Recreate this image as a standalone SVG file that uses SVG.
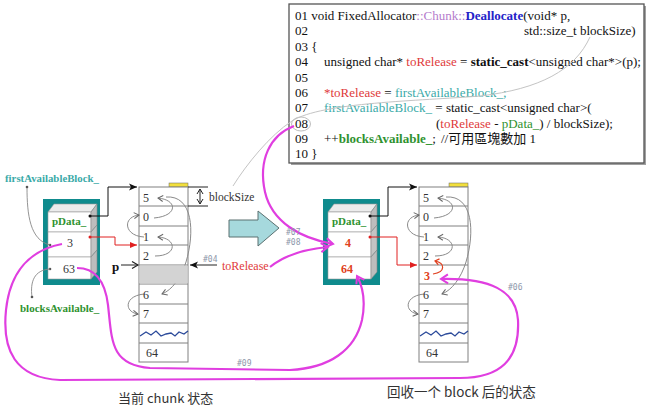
<svg xmlns="http://www.w3.org/2000/svg" width="650" height="413" viewBox="0 0 650 413">
<style>
.serif{font-family:"Liberation Serif","Noto Sans CJK TC",serif}
.num{font-family:"Liberation Serif",serif;font-size:12px;fill:#333}
.tag{font-family:"DejaVu Sans Mono",monospace;font-size:8px;fill:#8e97aa}
.cell{fill:#fff;stroke:#808080;stroke-width:1}
.chain{fill:none;stroke:#8a8a8a;stroke-width:1}
.mag{fill:none;stroke:#e03ee0;stroke-width:2.2}
.red{fill:#e03a3a}
.teal{fill:#3aaaa8}
.grn{fill:#2f922f}
</style>
<defs>
<marker id="ag" markerUnits="userSpaceOnUse" markerWidth="8" markerHeight="8" refX="6" refY="4" orient="auto"><path d="M1,1 L6,4 L1,7" fill="none" stroke="#666" stroke-width="1"/></marker>
<marker id="ab" markerUnits="userSpaceOnUse" markerWidth="10" markerHeight="8" refX="8" refY="4" orient="auto"><path d="M0,0.5 L8,4 L0,7.5 L2,4 z" fill="#111"/></marker>
<marker id="abo" markerUnits="userSpaceOnUse" markerWidth="10" markerHeight="10" refX="7" refY="5" orient="auto"><path d="M1,1.5 L7,5 L1,8.5" fill="none" stroke="#222" stroke-width="1.2"/></marker>
<marker id="ar" markerUnits="userSpaceOnUse" markerWidth="10" markerHeight="8" refX="7" refY="4" orient="auto"><path d="M0,1 L7,4 L0,7 z" fill="#e02020"/></marker>
<marker id="arc" markerUnits="userSpaceOnUse" markerWidth="8" markerHeight="8" refX="5" refY="4" orient="auto"><path d="M1,1 L5,4 L1,7" fill="none" stroke="#e04020" stroke-width="1.2"/></marker>
<marker id="am" markerUnits="userSpaceOnUse" markerWidth="12" markerHeight="12" refX="9" refY="6" orient="auto"><path d="M2,1.5 L9,6 L2,10.5" fill="none" stroke="#e03ee0" stroke-width="2"/></marker>
<marker id="ad" markerUnits="userSpaceOnUse" markerWidth="8" markerHeight="8" refX="6" refY="4" orient="auto-start-reverse"><path d="M1,1 L6,4 L1,7" fill="none" stroke="#222" stroke-width="1"/></marker>

<g id="structShape">
  <rect x="43" y="199" width="57" height="86" fill="#0f8b8d"/>
  <polygon points="48,212 54,204 97,204 91,212" fill="#ececec" stroke="#999" stroke-width="0.6"/>
  <rect x="48" y="212" width="43" height="20" fill="#fff" stroke="#999" stroke-width="0.6"/>
  <polygon points="91,212 97,204 97,225 91,232" fill="#bdbdbd" stroke="#888" stroke-width="0.6"/>
  <rect x="48" y="232" width="43" height="25" fill="#fff" stroke="#999" stroke-width="0.6"/>
  <polygon points="91,232 97,225 97,250 91,257" fill="#c4c4c4" stroke="#888" stroke-width="0.6"/>
  <rect x="48" y="257" width="43" height="22" fill="#fff" stroke="#999" stroke-width="0.6"/>
  <polygon points="91,257 97,250 97,272 91,279" fill="#bdbdbd" stroke="#888" stroke-width="0.6"/>
</g>

<g id="columnShape">
  <rect x="169" y="183" width="19" height="4" fill="#f2df3c" stroke="#666" stroke-width="0.5"/>
  <rect class="cell" x="139" y="187" width="49" height="175"/>
  <g stroke="#808080" stroke-width="1">
    <line x1="139" y1="206" x2="188" y2="206"/>
    <line x1="139" y1="226" x2="188" y2="226"/>
    <line x1="139" y1="245" x2="188" y2="245"/>
    <line x1="139" y1="265" x2="188" y2="265"/>
    <line x1="139" y1="284" x2="188" y2="284"/>
    <line x1="139" y1="304" x2="188" y2="304"/>
    <line x1="139" y1="323" x2="188" y2="323"/>
    <line x1="139" y1="343" x2="188" y2="343"/>
  </g>
  <polyline points="140,336 146,332 151,335 156,331 161,336 166,334 171,333 175,336 179,332 184,334 188,331" fill="none" stroke="#2b4a9a" stroke-width="1.3"/>
  <path class="chain" d="M154,218 C178,216 178,200 158,198" marker-end="url(#ag)"/>
  <path class="chain" d="M166,197 C193,195 195,232 186,262 C181,278 172,290 162,294" marker-end="url(#ag)"/>
  <path class="chain" d="M144,237 C124,236 122,217 139,215" marker-end="url(#ag)"/>
  <path class="chain" d="M155,256 C178,256 177,238 158,237" marker-end="url(#ag)"/>
  <path class="chain" d="M144,294 C124,296 124,312 138,314" marker-end="url(#ag)"/>
  <text class="num" x="143" y="202">5</text>
  <text class="num" x="143" y="221">0</text>
  <text class="num" x="143" y="241">1</text>
  <text class="num" x="143" y="260">2</text>
  <text class="num" x="143" y="299">6</text>
  <text class="num" x="143" y="318">7</text>
  <text class="num" x="146" y="357">64</text>
</g>
</defs>

<!-- code box -->
<g id="code">
  <rect x="291" y="6" width="355" height="159" fill="#a0a0a0"/>
  <rect x="289" y="4" width="355" height="159" fill="#fff" stroke="#555" stroke-width="1.3"/>
  <g class="serif" font-size="13" fill="#111">
    <text x="295" y="19.5">01 void FixedAllocator<tspan fill="#b57ccc">::Chunk::</tspan><tspan fill="#2323c8" font-weight="bold">Deallocate</tspan>(void* p,</text>
    <text x="295" y="35">02</text>
    <text x="524" y="35">std::size_t blockSize)</text>
    <text x="295" y="50.5">03 {</text>
    <text x="295" y="66">04</text>
    <text x="324" y="66">unsigned char* <tspan class="red">toRelease</tspan> = <tspan font-weight="bold">static_cast</tspan>&lt;unsigned char*&gt;(p);</text>
    <text x="295" y="81.5">05</text>
    <text x="295" y="97">06</text>
    <text x="324" y="97"><tspan class="red">*toRelease</tspan> = <tspan class="teal">firstAvailableBlock_;</tspan></text>
    <text x="295" y="112">07</text>
    <text x="324" y="112"><tspan class="teal">firstAvailableBlock_</tspan> = static_cast&lt;unsigned char&gt;(</text>
    <text x="295" y="127.5">08</text>
    <text x="436" y="127.5">(<tspan class="red">toRelease</tspan> - <tspan class="grn">pData_</tspan>) / blockSize);</text>
    <text x="295" y="143">09</text>
    <text x="324" y="143">++<tspan class="grn" font-weight="bold">blocksAvailable_</tspan>;  <tspan x="441">//可用區塊數加 1</tspan></text>
    <text x="295" y="158">10 }</text>
  </g>
  <ellipse cx="301" cy="124" rx="9.5" ry="7" fill="none" stroke="#bdbdbd" stroke-width="1"/>
</g>

<!-- left chunk -->
<g id="chunkLeft">
  <use href="#structShape"/>
  <text x="52" y="225" font-family="Liberation Serif,serif" font-size="11" font-weight="bold" fill="#2f922f">pData_</text>
  <text x="67" y="247" font-family="Liberation Serif,serif" font-size="12" fill="#333">3</text>
  <text x="63" y="273" font-family="Liberation Serif,serif" font-size="12" fill="#333">63</text>
  <circle cx="90" cy="216" r="1.5" fill="#111"/>
  <circle cx="90" cy="237" r="1.5" fill="#e02020"/>
  <circle cx="50" cy="245" r="1.3" fill="#555"/>
  <circle cx="50" cy="269" r="1.3" fill="#555"/>
</g>
<g id="labelFirst">
  <text x="5" y="182" font-family="Liberation Serif,serif" font-size="10.8" font-weight="bold" fill="#3aaaa8">firstAvailableBlock_</text>
  <path d="M27,187 C27,215 30,240 50,245" fill="none" stroke="#888" stroke-width="0.9"/>
  <circle cx="27" cy="187" r="1.3" fill="#555"/>
</g>
<g id="labelBlocks">
  <text x="20" y="312" font-family="Liberation Serif,serif" font-size="11" font-weight="bold" fill="#2f922f">blocksAvailable_</text>
  <path d="M32,297 C30,282 34,270 50,269" fill="none" stroke="#888" stroke-width="0.9"/>
  <circle cx="32" cy="297" r="1.3" fill="#555"/>
</g>
<g id="columnLeft">
  <use href="#columnShape"/>
  <rect x="139.5" y="265.5" width="48" height="18" fill="#d3d3d3"/>
</g>
<g id="blockSizeMark">
  <line x1="188" y1="187" x2="208" y2="187" stroke="#222" stroke-width="1"/>
  <line x1="188" y1="206" x2="208" y2="206" stroke="#222" stroke-width="1"/>
  <line x1="200" y1="189" x2="200" y2="204" stroke="#222" stroke-width="1" marker-start="url(#ad)" marker-end="url(#ad)"/>
  <text x="209" y="201" font-family="Liberation Serif,serif" font-size="11.5" fill="#333">blockSize</text>
</g>
<g id="pLabel">
  <text x="112" y="271" font-family="Liberation Serif,serif" font-size="13" font-weight="bold" fill="#111">p</text>
</g>
<g id="toReleaseLabel">
  <text x="222" y="270" font-family="Liberation Serif,serif" font-size="12" fill="#e03a3a">toRelease</text>
</g>

<!-- big arrow -->
<g id="bigArrow">
  <polygon points="229,220 258,220 258,211 279,228 258,246 258,237 229,237" fill="#a6d9dd" stroke="#5a7070" stroke-width="1"/>
</g>

<!-- right chunk -->
<g id="chunkRight">
  <use href="#structShape" x="280"/>
  <text x="332" y="225" font-family="Liberation Serif,serif" font-size="11" font-weight="bold" fill="#2f922f">pData_</text>
  <text x="345" y="247" font-family="Liberation Serif,serif" font-size="12" font-weight="bold" fill="#e04020">4</text>
  <text x="341" y="273" font-family="Liberation Serif,serif" font-size="12" font-weight="bold" fill="#e04020">64</text>
  <circle cx="370" cy="216" r="1.5" fill="#111"/>
  <circle cx="370" cy="237" r="1.5" fill="#e02020"/>
</g>
<g id="columnRight">
  <use href="#columnShape" x="280"/>
  <text x="424" y="280" font-family="Liberation Serif,serif" font-size="12" font-weight="bold" fill="#e04020">3</text>
</g>

<!-- captions -->
<g id="captions" font-family="Noto Sans CJK SC,sans-serif" fill="#333">
  <text x="118" y="403" font-size="13">当前 chunk 状态</text>
  <text x="387" y="397" font-size="13.5">回收一个 block 后的状态</text>
</g>

<!-- connectors -->
<g id="connectors">
  <path d="M90,216 H108 V187 H137" fill="none" stroke="#111" stroke-width="1" marker-end="url(#ab)"/>
  <path d="M90,237 H115 V245 H137" fill="none" stroke="#e02020" stroke-width="1" marker-end="url(#ar)"/>
  <line x1="121" y1="265" x2="138" y2="265" stroke="#222" stroke-width="1" marker-end="url(#abo)"/>
  <line x1="217" y1="265" x2="190" y2="265" stroke="#222" stroke-width="1" marker-end="url(#ab)"/>
  <path d="M370,216 H388 V187 H417" fill="none" stroke="#111" stroke-width="1" marker-end="url(#ab)"/>
  <path d="M370,237 H397 V265 H417" fill="none" stroke="#e02020" stroke-width="1" marker-end="url(#ar)"/>
  <path d="M433,274 C446,272 445,263 435,261" fill="none" stroke="#e04020" stroke-width="1.2" marker-end="url(#arc)"/>
  <path d="M233,186 C246,165 270,135 292,121 C322,102 420,101 480,96 C540,89 575,70 590,37" fill="none" stroke="#c4c4c4" stroke-width="1"/>
  <path class="mag" d="M294,126 C270,135 258,160 265,192 C272,222 300,238 333,244" marker-end="url(#am)"/>
  <path class="mag" d="M270,267 C285,255 305,249 328,247" marker-end="url(#am)"/>
  <path class="mag" d="M62,244 C30,250 10,272 6,310 C2,350 15,378 60,380 L460,378 C500,378 520,360 518,320 C516,290 490,278 441,279" marker-end="url(#am)"/>
  <path class="mag" d="M77,268 C95,268 105,280 108,305 C112,340 110,365 150,368 L290,370 C330,368 355,350 362,320 C366,300 363,287 357,276" marker-end="url(#am)"/>
  <text class="tag" x="203" y="262">#04</text>
  <text class="tag" x="286" y="235">#07</text>
  <text class="tag" x="286" y="245">#08</text>
  <text class="tag" x="508" y="290">#06</text>
  <text class="tag" x="237" y="366">#09</text>
</g>
</svg>
